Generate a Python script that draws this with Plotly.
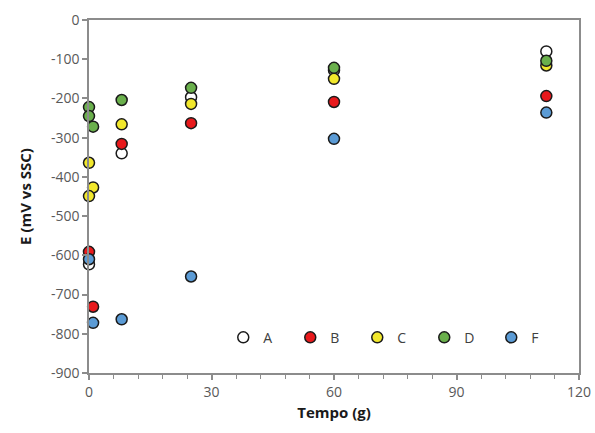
import plotly.graph_objects as go

names = ["A", "B", "C", "D", "F"]
colors = ["#ffffff", "#e8191c", "#f2e82c", "#6ab04c", "#5b9bd5"]

A_x = [0, 8, 25, 60, 112]
A_y = [-623, -340, -197, -128, -80]
B_x = [0, 1, 8, 25, 60, 112]
B_y = [-591, -731, -316, -263, -209, -194]
C_x = [0, 1, 0, 8, 25, 60, 112]
C_y = [-364, -427, -449, -266, -214, -150, -116]
D_x = [0, 0, 1, 8, 25, 60, 112]
D_y = [-222, -245, -272, -204, -173, -122, -104]
F_x = [0, 1, 8, 25, 60, 112]
F_y = [-610, -772, -763, -654, -303, -236]

y_tickvals = [0, -100, -200, -300, -400, -500, -600, -700, -800, -900]
y_ticktext = ["0", "-100", "-200", "-300", "-400", "-500", "-600", "-700", "-800", "-900"]

series_x = [A_x, B_x, C_x, D_x, F_x]
series_y = [A_y, B_y, C_y, D_y, F_y]

fig = go.Figure()
for n, c, xs, ys in zip(names, colors, series_x, series_y):
    fig.add_trace(go.Scatter(
        x=xs, y=ys, mode="markers", name=n, cliponaxis=False,
        marker=dict(size=11, color=c, line=dict(color="#1a1a1a", width=1.5)),
    ))

axis_common = dict(
    showgrid=False, zeroline=False, showline=True, linecolor="#8c8c8c", linewidth=1.5,
    mirror=True, ticks="outside", tickcolor="#8c8c8c", ticklen=5, tickwidth=1.5,
    tickfont=dict(family="Open Sans", size=14, color="#595959"),
    automargin=False,
)

fig.update_xaxes(range=[0, 120], dtick=30, tick0=0,
                 minor=dict(dtick=6, ticks="outside", ticklen=4, tickcolor="#8c8c8c", tickwidth=1.2),
                 title=dict(text="<b>Tempo (g)</b>", font=dict(family="Open Sans", size=15, color="#1a1a1a"), standoff=8),
                 **axis_common)
fig.update_yaxes(range=[-900, 0], tickmode="array", tickvals=y_tickvals, ticktext=y_ticktext,
                 title=dict(text="<b>E (mV vs SSC)</b>", font=dict(family="Open Sans", size=15, color="#1a1a1a"), standoff=16),
                 **axis_common)

fig.update_layout(
    width=595, height=433,
    margin=dict(l=89, r=16, t=20, b=60),
    plot_bgcolor="white", paper_bgcolor="white",
    legend=dict(orientation="h", x=0.274, y=0.1, xanchor="left", yanchor="middle",
                entrywidth=22, entrywidthmode="pixels", itemwidth=30,
                font=dict(family="Open Sans", size=14, color="#404040"),
                bgcolor="rgba(0,0,0,0)"),
)

fig.write_html("out.html", config={"displayModeBar": False},
               post_script="document.body.style.margin='0';")
